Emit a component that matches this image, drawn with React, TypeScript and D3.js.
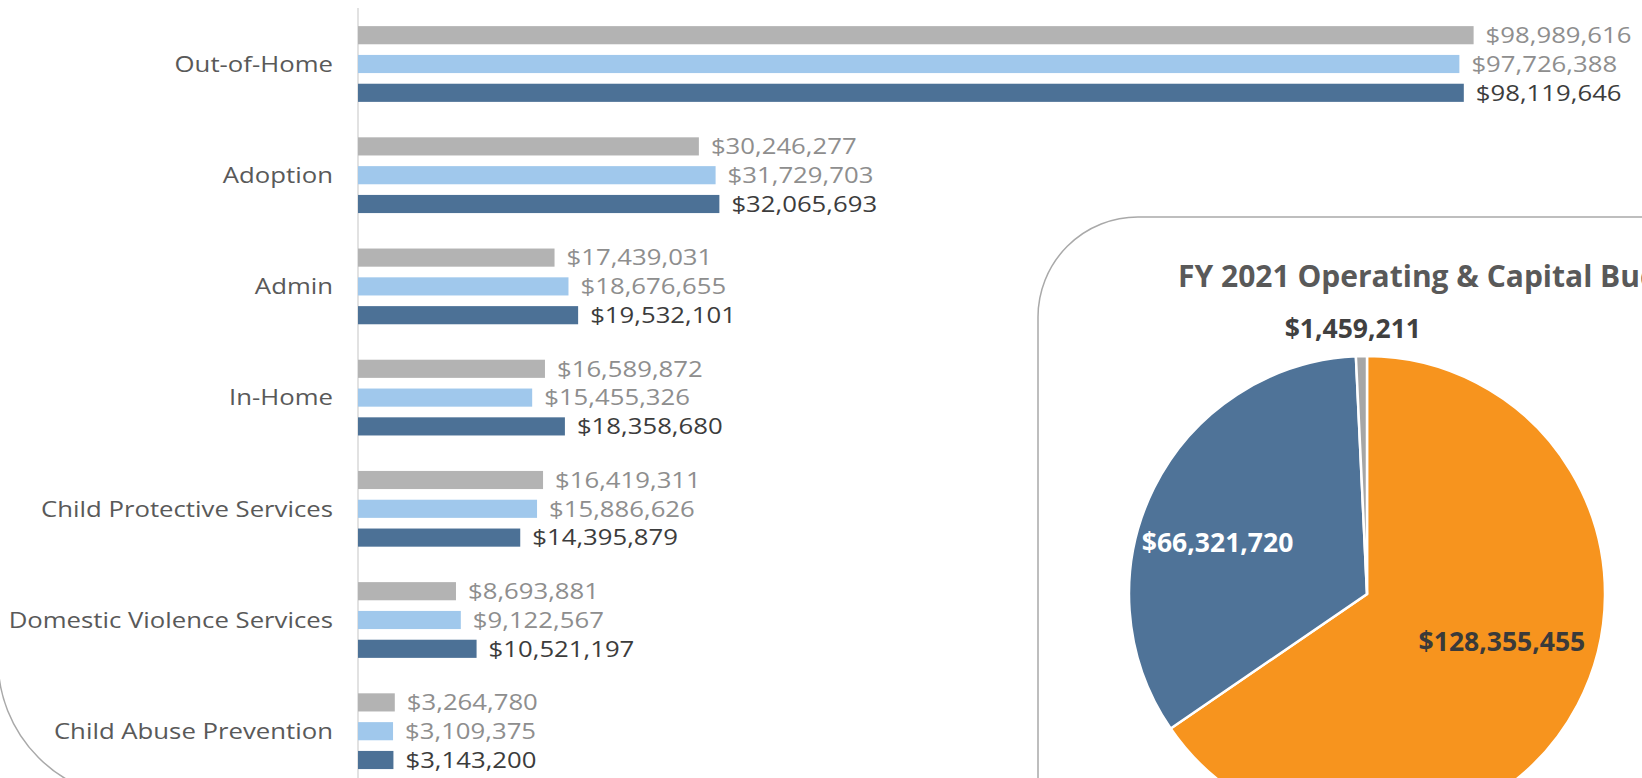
import React from 'react';
import * as d3 from 'd3';

const categories = [
  'Out-of-Home',
  'Adoption',
  'Admin',
  'In-Home',
  'Child Protective Services',
  'Domestic Violence Services',
  'Child Abuse Prevention',
];
const seriesNames = ['FY 2019', 'FY 2020', 'FY 2021'];
const fy2019 = [98989616, 30246277, 17439031, 16589872, 16419311, 8693881, 3264780];
const fy2020 = [97726388, 31729703, 18676655, 15455326, 15886626, 9122567, 3109375];
const fy2021 = [98119646, 32065693, 19532101, 18358680, 14395879, 10521197, 3143200];

const pieTitle = 'FY 2021 Operating & Capital Budget';
const pieNames = ['Operating', 'Capital', 'Other'];
const pieValues = [128355455, 66321720, 1459211];

const W = 1642;
const H = 778;
const FONT = '"Open Sans", "Noto Sans", sans-serif';
const STRETCH = 1.17;

const barColors = ['#b3b3b3', '#a0c8ec', '#4c7196'];
const labelColors = ['#8e8e8e', '#8e8e8e', '#3c3c3c'];
const pieColors = ['#f7941e', '#4f7398', '#a6a6a6'];
const pieLabelColors = ['#3a3a3a', '#ffffff', '#404040'];

const fmt = (v: number) => '$' + d3.format(',')(v);

export default function App() {
  const seriesValues = [fy2019, fy2020, fy2021];

  const y = d3.scaleBand<string>().domain(categories).range([8.4, 786.8]).padding(0);
  const yInner = d3
    .scaleBand<string>()
    .domain(seriesNames)
    .range([-43.2, 43.2])
    .paddingInner(0.37)
    .paddingOuter(0.185);
  const x = d3.scaleLinear().domain([0, 100e6]).range([358, 358 + 1127]);

  const fs = 22;

  // Pie
  const cx = 1367;
  const cy = 594;
  const r = 238;
  const pie = d3
    .pie<number>()
    .sort(null)
    .value((d) => d)
    .startAngle(0)
    .endAngle(2 * Math.PI);
  const arcs = pie(pieValues);
  const arcGen = d3.arc<d3.PieArcDatum<number>>().innerRadius(0).outerRadius(r);
  const labelRadii = [148, 158, 266];
  const labelOffsets = [
    [4, -22],
    [-8, 19],
    [-8, 0],
  ];

  return (
    <svg
      width={W}
      height={H}
      style={{ position: 'absolute', left: 0, top: 0, background: '#fff' }}
      fontFamily={FONT}
    >
      <rect x={0} y={0} width={W} height={H} fill="#fff" />
      {/* left panel (only its bottom-left rounded corner is visible) */}
      <rect
        x={-2}
        y={-300}
        width={2000}
        height={1098}
        rx={138}
        ry={138}
        fill="none"
        stroke="#a9a9a9"
        strokeWidth={1.5}
      />

      {/* axis line */}
      <line x1={x(0)} x2={x(0)} y1={8} y2={H} stroke="#d9d9d9" strokeWidth={1.5} />

      {categories.map((c, i) => {
        const gy = (y(c) as number) + y.bandwidth() / 2;
        return (
          <g key={c}>
            <text
              transform={`translate(333,${gy + fs * 0.357}) scale(${STRETCH},1)`}
              textAnchor="end"
              fontSize={fs}
              fill="#595959"
            >
              {c}
            </text>
            {seriesNames.map((s, j) => {
              const v = seriesValues[j][i];
              const by = gy + (yInner(s) as number);
              const bh = yInner.bandwidth();
              return (
                <g key={s}>
                  <rect x={x(0)} y={by} width={x(v) - x(0)} height={bh} fill={barColors[j]} />
                  <text
                    transform={`translate(${x(v) + 12},${by + bh / 2 + fs * 0.357}) scale(${STRETCH},1)`}
                    fontSize={fs}
                    fill={labelColors[j]}
                  >
                    {fmt(v)}
                  </text>
                </g>
              );
            })}
          </g>
        );
      })}

      {/* right panel */}
      <rect
        x={1038}
        y={217}
        width={800}
        height={800}
        rx={100}
        ry={100}
        fill="#fff"
        stroke="#a9a9a9"
        strokeWidth={1.5}
      />
      <text x={1178} y={287} fontSize={30} fontWeight={700} fill="#595959">
        {pieTitle}
      </text>
      <g transform={`translate(${cx},${cy})`}>
        {arcs.map((a, i) => (
          <path key={pieNames[i]} d={arcGen(a) || ''} fill={pieColors[i]} stroke="#fff" strokeWidth={2.5} />
        ))}
        {arcs.map((a, i) => {
          const lg = d3.arc<d3.PieArcDatum<number>>().innerRadius(labelRadii[i]).outerRadius(labelRadii[i]);
          const [lx, ly] = lg.centroid(a);
          return (
            <text
              key={pieNames[i] + 'l'}
              x={lx + labelOffsets[i][0]}
              y={ly + labelOffsets[i][1]}
              dy="0.36em"
              textAnchor="middle"
              fontSize={26.5}
              fontWeight={700}
              fill={pieLabelColors[i]}
            >
              {fmt(pieValues[i])}
            </text>
          );
        })}
      </g>
    </svg>
  );
}
